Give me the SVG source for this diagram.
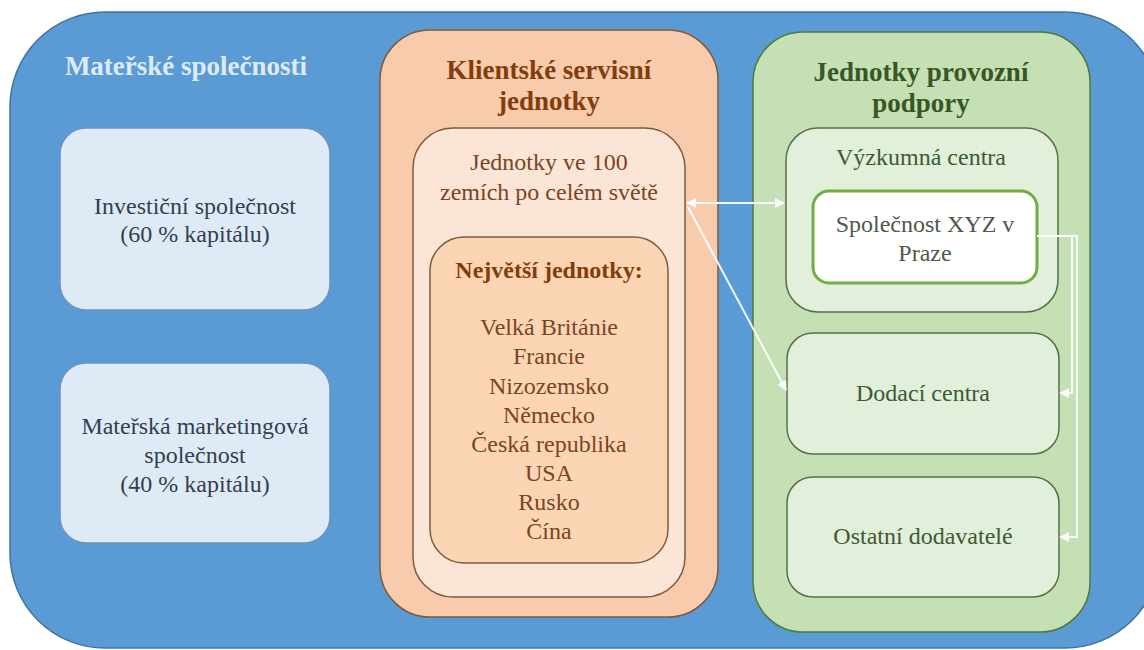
<svg xmlns="http://www.w3.org/2000/svg" width="1144" height="650" viewBox="0 0 1144 650">
  <defs>
    <style>
      text { font-family: "Liberation Serif", "Times New Roman", serif; text-anchor: middle; }
      .title { font-size: 27px; font-weight: bold; }
      .body { font-size: 24px; }
      .bold { font-weight: bold; }
      .blueBox { fill: #DEEBF7; stroke: #6F93BD; stroke-width: 1.5; }
      .orangeOuter { fill: #F8CBAD; stroke: #7F5A3C; stroke-width: 1.5; }
      .orangeMid { fill: #FBE5D6; stroke: #7F5A3C; stroke-width: 1.5; }
      .orangeInner { fill: #FCD5B5; stroke: #7F5A3C; stroke-width: 1.5; }
      .greenOuter { fill: #C5E0B4; stroke: #4F7A38; stroke-width: 1.5; }
      .greenInner { fill: #E2EFDA; stroke: #56704A; stroke-width: 1.5; }
      .conn { fill: none; stroke: #FFFFFF; stroke-width: 2; opacity: 0.92; }
    </style>
    <marker id="arrow" viewBox="0 0 10 10" refX="9" refY="5" markerWidth="5" markerHeight="5" orient="auto-start-reverse">
      <path d="M0,0 L10,5 L0,10 z" fill="#FFFFFF"/>
    </marker>
  </defs>

  <!-- background frame -->
  <rect x="10" y="12" width="1150" height="636" rx="95" ry="95" fill="#5B9BD5" stroke="#41719C" stroke-width="1.5"/>

  <!-- parent companies column -->
  <g id="materske">
    <text class="title" x="186" y="75" fill="#DEEBF7">Mateřské společnosti</text>
  </g>
  <g id="investicni">
    <rect class="blueBox" x="60" y="128" width="270" height="182" rx="26"/>
    <text class="body" x="195" y="214" fill="#333F50">Investiční společnost</text>
    <text class="body" x="195" y="242" fill="#333F50">(60 % kapitálu)</text>
  </g>
  <g id="marketingova">
    <rect class="blueBox" x="60" y="363" width="270" height="180" rx="26"/>
    <text class="body" x="195" y="434" fill="#333F50">Mateřská marketingová</text>
    <text class="body" x="195" y="463" fill="#333F50">společnost</text>
    <text class="body" x="195" y="492" fill="#333F50">(40 % kapitálu)</text>
  </g>

  <!-- client service units -->
  <g id="klientske">
    <rect class="orangeOuter" x="380" y="30" width="338" height="587" rx="50"/>
    <text class="title" x="549" y="79" fill="#843C0C">Klientské servisní</text>
    <text class="title" x="549" y="110" fill="#843C0C">jednotky</text>
  </g>
  <g id="jednotky100">
    <rect class="orangeMid" x="413" y="128" width="272" height="469" rx="40"/>
    <text class="body" x="549" y="170" fill="#7B4424">Jednotky ve 100</text>
    <text class="body" x="549" y="200" fill="#7B4424">zemích po celém světě</text>
  </g>
  <g id="nejvetsi">
    <rect class="orangeInner" x="430" y="237" width="238" height="326" rx="34"/>
    <text class="body bold" x="549" y="278" fill="#843C0C">Největší jednotky:</text>
    <text class="body" x="549" y="335" fill="#7B4424">Velká Británie</text>
    <text class="body" x="549" y="364" fill="#7B4424">Francie</text>
    <text class="body" x="549" y="394" fill="#7B4424">Nizozemsko</text>
    <text class="body" x="549" y="423" fill="#7B4424">Německo</text>
    <text class="body" x="549" y="452" fill="#7B4424">Česká republika</text>
    <text class="body" x="549" y="481" fill="#7B4424">USA</text>
    <text class="body" x="549" y="510" fill="#7B4424">Rusko</text>
    <text class="body" x="549" y="539" fill="#7B4424">Čína</text>
  </g>

  <!-- operational support units -->
  <g id="provozni">
    <rect class="greenOuter" x="753" y="32" width="337" height="600" rx="50"/>
    <text class="title" x="921" y="81" fill="#385723">Jednotky provozní</text>
    <text class="title" x="921" y="112" fill="#385723">podpory</text>
  </g>
  <g id="vyzkumna">
    <rect class="greenInner" x="786" y="128" width="272" height="184" rx="32"/>
    <text class="body" x="921" y="165" fill="#3F5A33">Výzkumná centra</text>
  </g>
  <g id="xyz">
    <rect x="813" y="191" width="224" height="92" rx="16" fill="#FFFFFF" stroke="#70AD47" stroke-width="3"/>
    <text class="body" x="925" y="232" fill="#4D5A48">Společnost XYZ v</text>
    <text class="body" x="925" y="261" fill="#4D5A48">Praze</text>
  </g>
  <g id="dodaci">
    <rect class="greenInner" x="787" y="333" width="272" height="121" rx="26"/>
    <text class="body" x="923" y="401" fill="#3F5A33">Dodací centra</text>
  </g>
  <g id="ostatni">
    <rect class="greenInner" x="787" y="477" width="272" height="120" rx="26"/>
    <text class="body" x="923" y="544" fill="#3F5A33">Ostatní dodavatelé</text>
  </g>

  <!-- connectors -->
  <g id="connectors">
    <line class="conn" x1="687" y1="203" x2="784" y2="203" marker-start="url(#arrow)" marker-end="url(#arrow)"/>
    <line class="conn" x1="688" y1="207" x2="786" y2="390" marker-end="url(#arrow)"/>
    <polyline class="conn" points="1037,236 1072,236 1072,393 1060,393" marker-end="url(#arrow)"/>
    <polyline class="conn" points="1037,236 1077,236 1077,537 1060,537" marker-end="url(#arrow)"/>
  </g>
</svg>
